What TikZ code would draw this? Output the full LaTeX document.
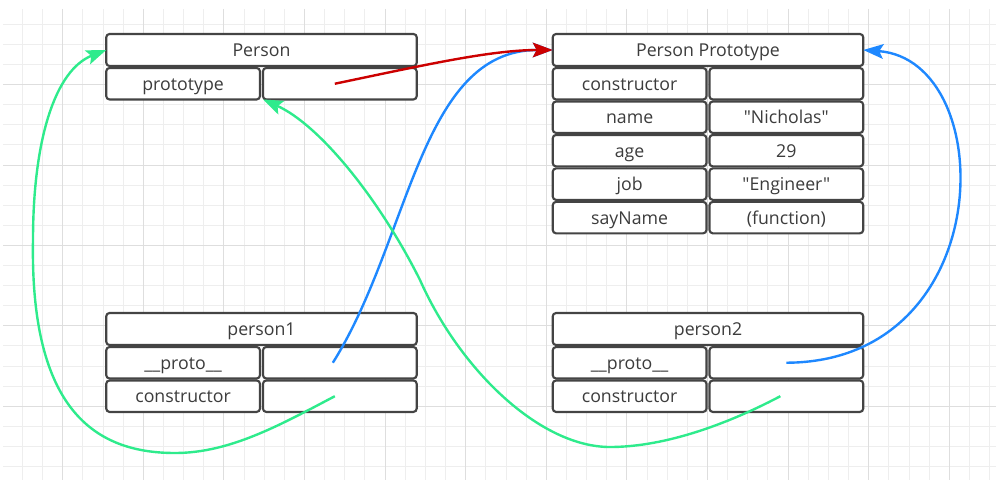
\documentclass[tikz,border=0pt]{standalone}
\usepackage{fontspec}
\newfontfamily\boxfont{Open Sans}
\usetikzlibrary{positioning, arrows.meta, calc}
\definecolor{boxline}{HTML}{444444}
\definecolor{boxtext}{HTML}{3C3C3C}
\definecolor{linkred}{HTML}{CC0000}
\definecolor{linkblue}{HTML}{1E88FF}
\definecolor{linkgreen}{HTML}{2EEB8C}
\definecolor{gridminor}{HTML}{EEEEEE}
\definecolor{gridmajor}{HTML}{DEDEDE}
\tikzset{
    cell/.style={ % one field of a table
        draw=boxline, fill=white, line width=1.6pt, rounded corners=2.5pt,
        minimum width=115.3pt, minimum height=23.6pt, inner sep=0pt, outer sep=0pt,
        text height=9.6pt, text depth=0pt,
        font=\boxfont\fontsize{13.3}{15}\selectfont, text=boxtext
    },
    head/.style={ % title row of a table
        cell, minimum width=232.9pt, minimum height=24pt
    },
    link/.style={ % pointer between tables
        -{Stealth[length=15pt,width=11pt,inset=3pt]},
        line width=1.8pt
    },
}

\begin{document}
\begin{tikzpicture}[x=0.75pt, y=-0.75pt]
            \useasboundingbox (0,0) rectangle (1005,485);
            % background grid
            \begin{scope}
                \clip (3,9) rectangle (996,480);
                \foreach \k in {1,...,49}
                    \draw[gridminor, line width=0.75pt] ({2.25+20.15*\k},9) -- ({2.25+20.15*\k},480);
                \foreach \k in {1,...,23}
                    \draw[gridminor, line width=0.75pt] (3,{4.2+20.1*\k}) -- (996,{4.2+20.1*\k});
                \foreach \k in {3,7,...,47}
                    \draw[gridmajor, line width=0.75pt] ({2.25+20.15*\k},9) -- ({2.25+20.15*\k},480);
                \foreach \k in {4,8,...,20}
                    \draw[gridmajor, line width=0.75pt] (3,{4.2+20.1*\k}) -- (996,{4.2+20.1*\k});
            \end{scope}

            \node[head]                                               (person)    at (261.5,50) {Person};
            \node[cell, below right=1.5pt and 0pt of person.south west] (personkey) {prototype};
            \node[cell, right=2.25pt of personkey]                    (personval) {};

            \node[head]                                               (proto)     at (708,50) {Person Prototype};
            \node[cell, below right=1.5pt and 0pt of proto.south west] (ctorkey)  {constructor};
            \node[cell, right=2.25pt of ctorkey]                      (ctorval)   {};
            \node[cell, below=1.5pt of ctorkey]                       (namekey)   {name};
            \node[cell, right=2.25pt of namekey]                      (nameval)   {"Nicholas"};
            \node[cell, below=1.5pt of namekey]                       (agekey)    {age};
            \node[cell, right=2.25pt of agekey]                       (ageval)    {29};
            \node[cell, below=1.5pt of agekey]                        (jobkey)    {job};
            \node[cell, right=2.25pt of jobkey]                       (jobval)    {"Engineer"};
            \node[cell, below=1.5pt of jobkey]                        (saykey)    {sayName};
            \node[cell, right=2.25pt of saykey]                       (sayval)    {(function)};

            \node[head]                                               (person1)   at (261.5,329) {person1};
            \node[cell, below right=1.5pt and 0pt of person1.south west] (proto1key) {\_\_proto\_\_};
            \node[cell, right=2.25pt of proto1key]                    (proto1val) {};
            \node[cell, below=1.5pt of proto1key]                     (ctor1key)  {constructor};
            \node[cell, right=2.25pt of ctor1key]                     (ctor1val)  {};

            \node[head]                                               (person2)   at (708,329) {person2};
            \node[cell, below right=1.5pt and 0pt of person2.south west] (proto2key) {\_\_proto\_\_};
            \node[cell, right=2.25pt of proto2key]                    (proto2val) {};
            \node[cell, below=1.5pt of proto2key]                     (ctor2key)  {constructor};
            \node[cell, right=2.25pt of ctor2key]                     (ctor2val)  {};

            % __proto__ links
            \draw[link, linkblue]
                    ($(proto1val.center)+(-7,0)$) .. controls (410,240) and (420,50) .. (proto.west);
            \draw[link, linkblue]
                    (proto2val.center) .. controls (1000,362) and (1000,60) .. (proto.east);
            % prototype link
            \draw[link, linkred]
                    ($(personval.center)+(-5,0)$) .. controls (420,66) and (490,50) .. (proto.west);
            % constructor links
            \draw[link, linkgreen]
                    ($(ctor1val.center)+(-5,0)$) .. controls (280,425) and (230,453) .. (175,453)
                    .. controls (95,453) and (30,410) .. (33,240)
                    .. controls (33,140) and (55,70) .. (person.west);
            \draw[link, linkgreen]
                    ($(ctor2val.center)+(-6,0)$) .. controls (720,428) and (660,447) .. (610,447)
                    .. controls (540,447) and (460,370) .. (420,280)
                    .. controls (380,200) and (320,125) .. (personval.south west);
        \end{tikzpicture}
\end{document}
